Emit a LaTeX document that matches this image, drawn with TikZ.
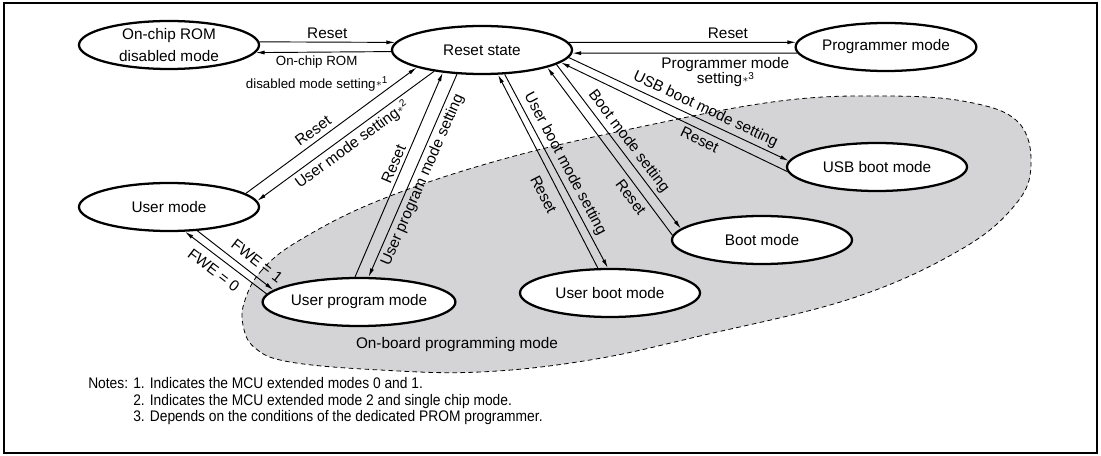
\documentclass[tikz,border=0pt]{standalone}
\usepackage{fontspec}
\setmainfont{Liberation Sans}
\newfontfamily\narrowfont{Liberation Sans}[FakeStretch=0.9]
\usetikzlibrary{shapes.geometric,arrows.meta}
\definecolor{blobgray}{RGB}{212,212,214}
\newcommand{\starnote}[1]{\kern0.4pt\raisebox{1.2pt}{\fontsize{8pt}{8pt}\selectfont$\ast$}\raisebox{3.4pt}{\fontsize{7.5pt}{7.5pt}\selectfont #1}}
\begin{document}
\begin{tikzpicture}[x=0.75pt,y=-0.75pt,
  modebox/.style={ellipse, draw, line width=1.7pt, fill=white, inner sep=0pt,
    minimum width=135pt, minimum height=36pt, font=\fontsize{11.5pt}{13pt}\selectfont},
  lab/.style={font=\fontsize{11.5pt}{11.7pt}\selectfont, inner sep=1.5pt},
  smalllab/.style={font=\fontsize{10pt}{11pt}\selectfont, inner sep=1.5pt},
  conn/.style={line width=0.7pt},
  arr/.style={conn, -{Latex[length=6.5pt,width=3pt]}},
  rarr/.style={conn, {Latex[length=6.5pt,width=3pt]}-},
]
\useasboundingbox (0,0) rectangle (1101,456);
\draw[line width=1.5pt] (4,3) rectangle (1097,453);

% on-board programming area
\draw[fill=blobgray, line width=0.6pt, dash pattern=on 3.5pt off 2.5pt]
  plot[smooth cycle, tension=0.65] coordinates {
  (300,240) (262,270) (245,300) (243,325) (255,348) (290,362) (380,370)
  (480,372) (590,360) (700,336) (853,298) (960,250) (1015,205) (1031,165)
  (1018,122) (968,102) (887,96) (780,101) (640,127) (500,160) (380,200)};
\node[lab] (onb) at (457,345) {On-board programming mode};

% modes
\node[modebox, align=center] (ocr) at (169,45) {On-chip ROM\\[3pt]disabled mode};
\node[modebox] (rs)  at (482,50)  {Reset state};
\node[modebox] (pm)  at (886,47)  {Programmer mode};
\node[modebox] (um)  at (169,207) {User mode};
\node[modebox] (upm) at (359,302) {User program mode};
\node[modebox] (ubm) at (610,293) {User boot mode};
\node[modebox] (bm)  at (762,240) {Boot mode};
\node[modebox] (usb) at (877,167) {USB boot mode};

% transitions
\draw[arr] (ocr.2) -- node[lab, above=1pt] {Reset} (rs.175);
\draw[arr] (rs.181) -- node[smalllab, below=1pt, pos=0.55, align=center]
  {On-chip ROM\\[6pt]disabled mode setting\starnote{1}} (ocr.-5);

\draw[arr] (rs.5) -- node[lab, above=1pt, pos=0.7] {Reset} (pm.177.5);
\draw[arr] (pm.184) -- node[lab, below=1pt, pos=0.32, align=center]
  {Programmer mode\\setting\starnote{3}} (rs.-2);

\draw[arr] (um.10) -- node[lab, sloped, above=2pt, pos=0.43] {Reset} (rs.195);
\draw[rarr] (um.4.5) -- node[lab, sloped, below=1pt, pos=0.5] {User mode setting\starnote{2}} (rs.204);

\draw[arr] (upm.99.5) -- node[lab, sloped, above=1pt, pos=0.535] {Reset} (rs.210);
\draw[rarr] (upm.69) -- node[lab, sloped, below=1pt, pos=0.5] {User program mode setting} (rs.224);

\draw[rarr] (rs.303) -- node[lab, sloped, below=5pt, pos=0.585] {Reset} (ubm.116);
\draw[arr] (rs.313.5) -- node[lab, sloped, above=1pt, pos=0.49] {User boot mode setting} (ubm.95);

\draw[rarr] (rs.345.5) -- node[lab, sloped, below=2pt, pos=0.735] {Reset} (bm.177.2);
\draw[arr] (rs.349.4) -- node[lab, sloped, above=1pt, pos=0.51] {Boot mode setting} (bm.172.8);

\draw[arr] (rs.355.4) -- node[lab, sloped, above=1pt, pos=0.6] {USB boot mode setting} (usb.176.8);
\draw[rarr] (rs.351.4) -- node[lab, sloped, below=1pt, pos=0.63] {Reset} (usb.183.2);

\draw[arr] (um.320) -- node[lab, sloped, above=4pt, pos=0.68] {FWE = 1} (upm.172);
\draw[rarr] (um.303.6) -- node[lab, sloped, below=4pt, pos=0.45] {FWE = 0} (upm.175.4);

% notes
\node[anchor=north west, inner sep=0pt, font=\narrowfont\fontsize{11.5pt}{12.4pt}\selectfont] (notes) at (88,377)
 {\begin{tabular}{@{}l@{ }l@{}}
  Notes: & 1. Indicates the MCU extended modes 0 and 1.\\
         & 2. Indicates the MCU extended mode 2 and single chip mode.\\
         & 3. Depends on the conditions of the dedicated PROM programmer.
  \end{tabular}};
\end{tikzpicture}
\end{document}
